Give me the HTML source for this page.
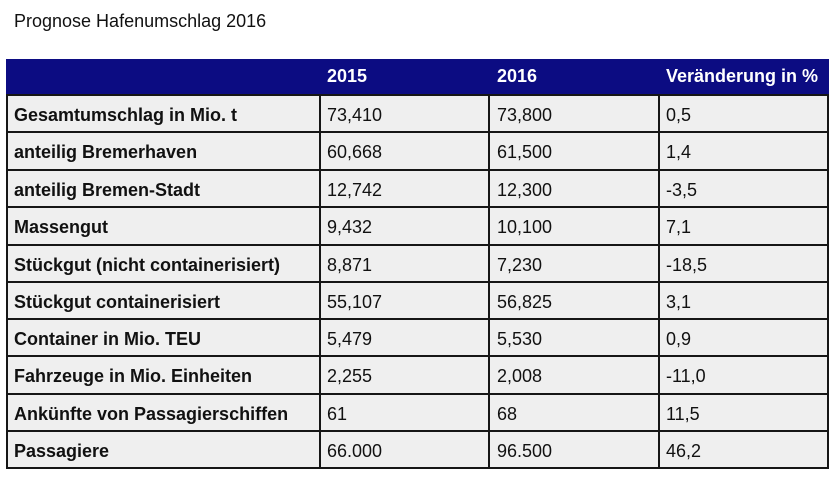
<!DOCTYPE html>
<html><head><meta charset="utf-8">
<style>
html,body{margin:0;padding:0;background:#fff;}
body{width:840px;height:477px;position:relative;overflow:hidden;font-family:"Liberation Sans",Arial,sans-serif;color:#111;}
.t{position:absolute;white-space:nowrap;font-size:18px;}
.hdr{position:absolute;left:6px;top:59px;width:823px;height:35px;background:#0c0c82;}
.cells{position:absolute;left:6px;top:95px;width:823px;height:374px;background:#efefef;}
.h{position:absolute;background:#161616;height:2px;left:6px;width:823px;}
.v{position:absolute;background:#161616;width:2px;top:94px;height:375px;}
.b{font-weight:bold;}
.w{color:#fff;font-weight:bold;}
</style></head><body>
<div class="t" style="left:14px;top:6px;line-height:30px;">Prognose Hafenumschlag 2016</div>
<div class="hdr"></div>
<div class="cells"></div>
<div class="t w" style="left:327px;top:59px;line-height:35px;">2015</div>
<div class="t w" style="left:497px;top:59px;line-height:35px;">2016</div>
<div class="t w" style="left:666px;top:59px;line-height:35px;">Veränderung in %</div>

<div class="h" style="top:94px"></div>
<div class="h" style="top:131px"></div>
<div class="h" style="top:169px"></div>
<div class="h" style="top:206px"></div>
<div class="h" style="top:244px"></div>
<div class="h" style="top:281px"></div>
<div class="h" style="top:318px"></div>
<div class="h" style="top:355px"></div>
<div class="h" style="top:393px"></div>
<div class="h" style="top:430px"></div>
<div class="h" style="top:467px"></div>
<div class="v" style="left:6px"></div>
<div class="v" style="left:319px"></div>
<div class="v" style="left:488px"></div>
<div class="v" style="left:658px"></div>
<div class="v" style="left:827px"></div>

<div id="rows"></div>
<div class="t b" style="left:14px;top:97px;line-height:37px;">Gesamtumschlag in Mio. t</div>
<div class="t" style="left:327px;top:97px;line-height:37px;">73,410</div>
<div class="t" style="left:497px;top:97px;line-height:37px;">73,800</div>
<div class="t" style="left:666px;top:97px;line-height:37px;">0,5</div>

<div class="t b" style="left:14px;top:134px;line-height:37px;">anteilig Bremerhaven</div>
<div class="t" style="left:327px;top:134px;line-height:37px;">60,668</div>
<div class="t" style="left:497px;top:134px;line-height:37px;">61,500</div>
<div class="t" style="left:666px;top:134px;line-height:37px;">1,4</div>

<div class="t b" style="left:14px;top:172px;line-height:37px;">anteilig Bremen-Stadt</div>
<div class="t" style="left:327px;top:172px;line-height:37px;">12,742</div>
<div class="t" style="left:497px;top:172px;line-height:37px;">12,300</div>
<div class="t" style="left:666px;top:172px;line-height:37px;">-3,5</div>

<div class="t b" style="left:14px;top:209px;line-height:37px;">Massengut</div>
<div class="t" style="left:327px;top:209px;line-height:37px;">9,432</div>
<div class="t" style="left:497px;top:209px;line-height:37px;">10,100</div>
<div class="t" style="left:666px;top:209px;line-height:37px;">7,1</div>

<div class="t b" style="left:14px;top:247px;line-height:37px;">Stückgut (nicht containerisiert)</div>
<div class="t" style="left:327px;top:247px;line-height:37px;">8,871</div>
<div class="t" style="left:497px;top:247px;line-height:37px;">7,230</div>
<div class="t" style="left:666px;top:247px;line-height:37px;">-18,5</div>

<div class="t b" style="left:14px;top:284px;line-height:37px;">Stückgut containerisiert</div>
<div class="t" style="left:327px;top:284px;line-height:37px;">55,107</div>
<div class="t" style="left:497px;top:284px;line-height:37px;">56,825</div>
<div class="t" style="left:666px;top:284px;line-height:37px;">3,1</div>

<div class="t b" style="left:14px;top:321px;line-height:37px;">Container in Mio. TEU</div>
<div class="t" style="left:327px;top:321px;line-height:37px;">5,479</div>
<div class="t" style="left:497px;top:321px;line-height:37px;">5,530</div>
<div class="t" style="left:666px;top:321px;line-height:37px;">0,9</div>

<div class="t b" style="left:14px;top:358px;line-height:37px;">Fahrzeuge in Mio. Einheiten</div>
<div class="t" style="left:327px;top:358px;line-height:37px;">2,255</div>
<div class="t" style="left:497px;top:358px;line-height:37px;">2,008</div>
<div class="t" style="left:666px;top:358px;line-height:37px;">-11,0</div>

<div class="t b" style="left:14px;top:396px;line-height:37px;">Ankünfte von Passagierschiffen</div>
<div class="t" style="left:327px;top:396px;line-height:37px;">61</div>
<div class="t" style="left:497px;top:396px;line-height:37px;">68</div>
<div class="t" style="left:666px;top:396px;line-height:37px;">11,5</div>

<div class="t b" style="left:14px;top:433px;line-height:37px;">Passagiere</div>
<div class="t" style="left:327px;top:433px;line-height:37px;">66.000</div>
<div class="t" style="left:497px;top:433px;line-height:37px;">96.500</div>
<div class="t" style="left:666px;top:433px;line-height:37px;">46,2</div>
</body></html>
